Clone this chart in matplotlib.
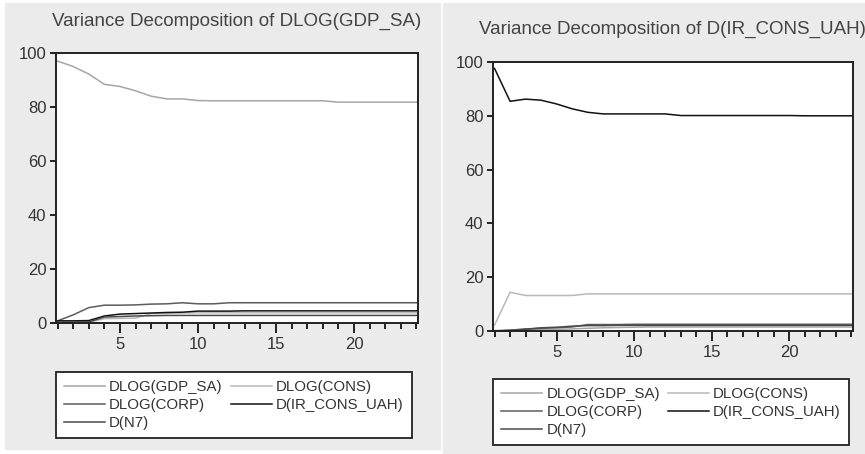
import numpy as np
import matplotlib
matplotlib.use("Agg")
import matplotlib.pyplot as plt
from matplotlib.patches import Rectangle
from matplotlib.ticker import MultipleLocator

plt.rcParams['font.family'] = ['Liberation Sans', 'DejaVu Sans']

periods = np.arange(1, 25)
labels = ["DLOG(GDP_SA)", "DLOG(CONS)", "DLOG(CORP)", "D(IR_CONS_UAH)", "D(N7)"]
colors = ["#a6a6a6", "#b9b9b9", "#5c5c5c", "#111111", "#4a4a4a"]

# variance decomposition of DLOG(GDP_SA)
gdp_gdp = [97.0, 95.0, 92.2, 88.4, 87.6, 86.0, 84.0, 83.0, 83.0, 82.4, 82.3, 82.3,
           82.3, 82.3, 82.3, 82.3, 82.3, 82.3, 81.8, 81.8, 81.8, 81.8, 81.8, 81.8]
gdp_cons = [0.4, 0.3, 0.3, 1.6, 1.7, 1.8, 3.5, 3.6, 3.7, 3.8, 3.8, 3.8,
            3.8, 3.8, 3.8, 3.8, 3.8, 3.8, 3.8, 3.8, 3.8, 3.8, 3.8, 3.8]
gdp_corp = [0.8, 3.0, 5.7, 6.6, 6.6, 6.7, 7.0, 7.1, 7.5, 7.1, 7.1, 7.5,
            7.5, 7.5, 7.5, 7.5, 7.5, 7.5, 7.5, 7.5, 7.5, 7.5, 7.5, 7.5]
gdp_ir = [0.8, 0.8, 0.9, 2.6, 3.3, 3.5, 3.7, 3.9, 4.0, 4.4, 4.4, 4.4,
          4.5, 4.5, 4.5, 4.5, 4.5, 4.5, 4.5, 4.5, 4.5, 4.5, 4.5, 4.5]
gdp_n7 = [0.3, 0.4, 0.4, 2.2, 2.4, 2.6, 2.7, 2.8, 2.8, 2.8, 2.8, 2.8,
          2.8, 2.8, 2.8, 2.8, 2.8, 2.8, 2.8, 2.8, 2.8, 2.8, 2.8, 2.8]

# variance decomposition of D(IR_CONS_UAH)
ir_gdp = [0.2, 0.3, 0.4, 0.5, 0.6, 0.8, 1.0, 1.2, 1.3, 1.4, 1.5, 1.5,
          1.5, 1.5, 1.5, 1.5, 1.5, 1.5, 1.5, 1.5, 1.5, 1.5, 1.5, 1.5]
ir_cons = [2.2, 14.4, 13.2, 13.2, 13.2, 13.2, 13.8, 13.8, 13.8, 13.8, 13.8, 13.8,
           13.8, 13.8, 13.8, 13.8, 13.8, 13.8, 13.8, 13.8, 13.8, 13.8, 13.8, 13.8]
ir_corp = [0.0, 0.3, 0.8, 1.0, 1.2, 1.5, 2.4, 2.4, 2.4, 2.5, 2.5, 2.5,
           2.5, 2.5, 2.5, 2.5, 2.5, 2.5, 2.5, 2.5, 2.5, 2.5, 2.5, 2.5]
ir_ir = [97.6, 85.4, 86.2, 85.8, 84.4, 82.6, 81.3, 80.7, 80.7, 80.7, 80.7, 80.7,
         80.1, 80.1, 80.1, 80.1, 80.1, 80.1, 80.1, 80.1, 80.0, 80.0, 80.0, 80.0]
ir_n7 = [0.0, 0.2, 0.6, 1.2, 1.4, 1.8, 2.0, 2.0, 2.1, 2.1, 2.1, 2.1,
         2.1, 2.1, 2.1, 2.1, 2.1, 2.1, 2.1, 2.1, 2.1, 2.1, 2.1, 2.1]

panels = [
    ("Variance Decomposition of DLOG(GDP_SA)",
     [gdp_gdp, gdp_cons, gdp_corp, gdp_ir, gdp_n7]),
    ("Variance Decomposition of D(IR_CONS_UAH)",
     [ir_gdp, ir_cons, ir_corp, ir_ir, ir_n7]),
]

fig = plt.figure(figsize=(8.65, 4.54), dpi=100, facecolor="white")

# gray panel backgrounds
W, H = 865, 454
fig.patches.append(Rectangle((5 / W, 1 - 449 / H), 435 / W, 446 / H,
                             transform=fig.transFigure, color="#ebebeb", zorder=-5))
fig.patches.append(Rectangle((443 / W, 0), 422 / W, 1 - 3 / H,
                             transform=fig.transFigure, color="#ebebeb", zorder=-5))

axes_pos = [[56 / W, 1 - 323 / H, 362 / W, 270 / H],
            [493 / W, 1 - 331 / H, 360 / W, 269 / H]]
title_pos = [(237 / W, 1 - 21 / H), (672 / W, 1 - 29 / H)]
legend_pos = [(56 / W, 1 - 372 / H), (493 / W, 1 - 379 / H)]

# legend fills columns first; this order gives rows GDP/CONS, CORP/IR, N7
leg_order = [0, 2, 4, 1, 3]

for (title, series), pos, tpos, lpos in zip(panels, axes_pos, title_pos, legend_pos):
    ax = fig.add_axes(pos)
    ax.set_zorder(2)
    ax.set_facecolor("white")
    handles = []
    for vals, lab, col in zip(series, labels, colors):
        h, = ax.plot(periods, vals, color=col, lw=1.1, label=lab)
        handles.append(h)
    ax.set_xlim(0.9, 24.1)
    ax.set_ylim(0, 100)
    ax.xaxis.set_major_locator(MultipleLocator(5))
    ax.xaxis.set_minor_locator(MultipleLocator(1))
    ax.yaxis.set_major_locator(MultipleLocator(20))
    ax.tick_params(axis="x", which="major", direction="out", length=7, width=1.2,
                   labelsize=12, labelcolor="#333333", pad=3)
    ax.tick_params(axis="x", which="minor", direction="out", length=4, width=1.2)
    ax.tick_params(axis="y", direction="out", length=4, width=1.2,
                   labelsize=12, labelcolor="#333333", pad=3)
    for sp in ax.spines.values():
        sp.set_linewidth(1.4)
        sp.set_color("#222222")
    fig.text(tpos[0], tpos[1], title, ha="center", va="center",
             fontsize=13.5, color="#444444")
    leg = fig.legend(handles=[handles[i] for i in leg_order],
                     labels=[labels[i] for i in leg_order], ncol=2, loc="upper left",
                     bbox_to_anchor=lpos, fontsize=10.8, frameon=True, fancybox=False,
                     framealpha=1, facecolor="white",
                     handlelength=2.7, handletextpad=0.3, columnspacing=0.55,
                     labelspacing=0.26, borderpad=0.55, borderaxespad=0)
    leg.get_frame().set_edgecolor("#222222")
    leg.get_frame().set_linewidth(1.3)
    for t in leg.get_texts():
        t.set_color("#333333")

fig.savefig("out.png", dpi=100, facecolor="white")
